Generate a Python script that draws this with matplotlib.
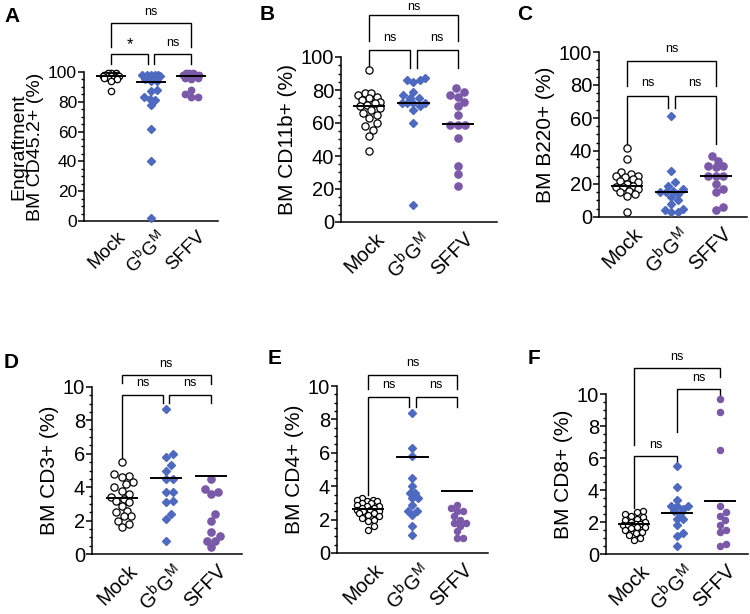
import numpy as np
import matplotlib
matplotlib.use("Agg")
import matplotlib.pyplot as plt
import matplotlib.transforms as mtransforms
from matplotlib.ticker import MultipleLocator

plt.rcParams['font.family'] = ['Liberation Sans', 'DejaVu Sans']
plt.rcParams['mathtext.default'] = 'regular'

groups = ['Mock', r'G$^\mathregular{b}$G$^\mathregular{M}$', 'SFFV']

# values (%)
a_mock = [99, 99, 99, 98, 98, 98, 98, 98, 97, 97, 97, 97, 97, 97, 96, 96, 96, 95, 94, 87]
a_gbgm = [98, 98, 98, 98, 98, 97, 95, 94, 94, 88, 87, 83, 82, 81, 78, 62, 40, 2]
a_sffv = [99, 99, 99, 98, 98, 98, 98, 97, 97, 96, 96, 95, 88, 85, 83, 83]
a_line = [97, 93, 97]

b_mock = [92, 78, 78, 77, 76, 75, 74, 73, 72, 71, 70, 69, 68, 66, 65, 63, 60, 58, 56, 52, 43]
b_gbgm = [87, 86, 86, 85, 79, 77, 75, 75, 72, 72, 72, 72, 70, 68, 60, 10]
b_sffv = [81, 79, 77, 76, 73, 70, 65, 59, 59, 59, 51, 34, 29, 22]
b_line = [70, 72, 59.5]

c_mock = [42, 35, 27, 26, 25, 25, 24, 23, 22, 21, 20, 19, 18, 18, 17, 16, 15, 14, 13, 3]
c_gbgm = [61, 28, 21, 19, 17, 16, 15, 15, 14, 12, 10, 8, 5, 4, 3, 3]
c_sffv = [37, 34, 31, 31, 30, 25, 25, 25, 20, 17, 15, 6, 4]
c_line = [19, 15, 25]

d_mock = [5.5, 4.8, 4.7, 4.6, 4.3, 4.2, 4.0, 3.8, 3.6, 3.4, 3.3, 3.2, 3.1, 2.9, 2.6, 2.5,
          2.3, 2.3, 2.0, 1.8, 1.6]
d_gbgm = [8.7, 6.0, 5.8, 5.3, 5.0, 4.5, 4.5, 3.7, 3.7, 3.2, 3.1, 2.4, 2.1, 0.8]
d_sffv = [4.5, 3.9, 3.7, 3.6, 2.4, 2.0, 1.3, 1.1, 0.8, 0.8, 0.4]
d_line = [3.35, 4.55, 4.7]

e_mock = [3.3, 3.2, 3.2, 3.1, 3.1, 3.0, 3.0, 2.9, 2.8, 2.8, 2.7, 2.7, 2.6, 2.6, 2.5, 2.5,
          2.4, 2.4, 2.3, 2.2, 2.1, 2.0, 1.9, 1.6, 1.4]
e_gbgm = [8.4, 6.3, 5.8, 4.5, 4.0, 3.6, 3.6, 3.3, 3.3, 2.9, 2.5, 2.5, 2.3, 1.6, 1.1]
e_sffv = [2.9, 2.7, 2.5, 2.5, 2.2, 2.0, 1.8, 1.8, 1.6, 1.3, 0.9, 0.9]
e_line = [2.65, 5.75, 3.7]

f_mock = [2.7, 2.6, 2.5, 2.4, 2.3, 2.2, 2.1, 2.0, 2.0, 1.9, 1.9, 1.8, 1.8, 1.8, 1.7, 1.7,
          1.6, 1.5, 1.4, 1.3, 1.2, 1.0, 0.9]
f_gbgm = [5.5, 4.2, 3.4, 3.0, 3.0, 3.0, 2.8, 2.7, 2.5, 2.2, 2.2, 1.8, 1.3, 1.1, 0.5]
f_sffv = [9.7, 8.9, 6.5, 3.0, 2.6, 2.4, 2.1, 1.8, 1.5, 1.4, 0.6, 0.5]
f_line = [1.85, 2.55, 3.3]

BLUE = '#4d69c0'
PURPLE = '#7a5aa8'
W, H = 750, 614

fig = plt.figure(figsize=(7.5, 6.14), dpi=100)
shift = mtransforms.ScaledTranslation(0.06, -0.03, fig.dpi_scale_trans)


def make_ax(l, t, r, b, xlim, ylim, major, minor, fs, xfs=14.5):
    ax = fig.add_axes([l / W, 1 - b / H, (r - l) / W, (b - t) / H])
    ax.set_xlim(*xlim)
    ax.set_ylim(*ylim)
    ax.yaxis.set_major_locator(MultipleLocator(major))
    ax.yaxis.set_minor_locator(MultipleLocator(minor))
    for s in ['top', 'right']:
        ax.spines[s].set_visible(False)
    for s in ['left', 'bottom']:
        ax.spines[s].set_linewidth(1.1)
    ax.tick_params(axis='y', which='major', length=4, width=1.1, labelsize=fs, pad=1)
    ax.tick_params(axis='y', which='minor', length=2.5, width=1.0)
    ax.tick_params(axis='x', length=0, labelsize=xfs, pad=3)
    ax.set_xticks([0, 1, 2])
    ax.set_xticklabels(groups, rotation=45, ha='right', rotation_mode='anchor')
    for lab in ax.get_xticklabels():
        lab.set_transform(lab.get_transform() + shift)
    return ax


def swarm(ax, xc, vals, diam, maxoff):
    # simple beeswarm in pixel space, limited width
    order = np.argsort(vals)
    placed = []
    xs = np.zeros(len(vals))
    cands = [0.0]
    k = 1
    while k * diam * 0.25 <= maxoff:
        cands += [k * diam * 0.25, -k * diam * 0.25]
        k += 1
    for i in order:
        px, py = ax.transData.transform((xc, vals[i]))
        best, bestd = None, -1
        for c in cands:
            cx = px + c
            d = min([np.hypot(cx - qx, py - qy) for qx, qy in placed] or [1e9])
            if d >= diam * 0.95:
                best = cx
                break
            if d > bestd:
                best, bestd = cx, d
        placed.append((best, py))
        xs[i] = ax.transData.inverted().transform((best, py))[0]
    return xs


def draw_groups(ax, data, line, ms, diam, maxoff=12):
    mock, gbgm, sffv = data
    x0 = swarm(ax, 0, mock, diam, maxoff)
    ax.plot(x0, mock, 'o', ms=ms, mfc='white', mec='black', mew=0.9, clip_on=False, zorder=3)
    x1 = swarm(ax, 1, gbgm, diam * 0.9, maxoff)
    ax.plot(x1, gbgm, 'D', ms=ms * 0.82, mfc=BLUE, mec=BLUE, clip_on=False, zorder=3)
    x2 = swarm(ax, 2, sffv, diam, maxoff)
    ax.plot(x2, sffv, 'o', ms=ms, mfc=PURPLE, mec=PURPLE, clip_on=False, zorder=3)
    for i, v in enumerate(line):
        ax.plot([i - 0.34, i + 0.34], [v, v], color='black', lw=1.4, zorder=4, clip_on=False)


def bracket(ax, x1, x2, y, e1, e2, label, ly, fs=9):
    ax.plot([x1, x1, x2, x2], [e1, y, y, e2], color='black', lw=1.0, clip_on=False,
            solid_joinstyle='miter')
    ax.text((x1 + x2) / 2, ly, label, ha='center', va='center', fontsize=fs)


# ---- A ----
axA = make_ax(84, 72, 218, 221, (-0.675, 2.675), (0, 100), 20, 5, 12.5, xfs=13.5)
draw_groups(axA, (a_mock, a_gbgm, a_sffv), a_line, 4.6, 6.5, maxoff=9)
axA.set_ylabel('Engraftment\nBM CD45.2+ (%)', fontsize=14, labelpad=3, linespacing=1.0)
bracket(axA, 0, 2, 133, 117, 117, 'ns', 140)
bracket(axA, 0, 0.93, 112, 105.5, 105.5, '*', 118.5, fs=12)
bracket(axA, 1.07, 2, 112, 105.5, 105.5, 'ns', 119.5)

# ---- B ----
axB = make_ax(341, 57, 497, 222, (-0.63, 2.88), (0, 100), 20, 5, 14.5)
draw_groups(axB, (b_mock, b_gbgm, b_sffv), b_line, 5.2, 7.5)
axB.set_ylabel('BM CD11b+ (%)', fontsize=15, labelpad=3)
bracket(axB, 0, 2, 125.5, 110, 110, 'ns', 130.6)
bracket(axB, 0, 0.93, 104, 93.5, 93.5, 'ns', 111.5)
bracket(axB, 1.07, 2, 104, 93.5, 93.5, 'ns', 111.5)

# ---- C ----
axC = make_ax(599, 52, 747, 217, (-0.63, 2.7), (0, 100), 20, 5, 14.5)
draw_groups(axC, (c_mock, c_gbgm, c_sffv), c_line, 5.2, 7.5)
axC.set_ylabel('BM B220+ (%)', fontsize=15, labelpad=3)
bracket(axC, 0, 2, 94.5, 79.5, 79.5, 'ns', 102)
bracket(axC, 0, 0.93, 73.3, 44, 66, 'ns', 81)
bracket(axC, 1.07, 2, 73.3, 66, 44, 'ns', 81)

# ---- D ----
axD = make_ax(92, 387, 242, 554, (-0.67, 2.7), (0, 10), 2, 0.5, 14.5)
draw_groups(axD, (d_mock, d_gbgm, d_sffv), d_line, 5.2, 7.5)
axD.set_ylabel('BM CD3+ (%)', fontsize=15, labelpad=3)
bracket(axD, 0, 2, 10.72, 10.25, 10.2, 'ns', 11.4)
bracket(axD, 0, 0.93, 9.52, 5.65, 9.05, 'ns', 10.25)
bracket(axD, 1.07, 2, 9.52, 9.05, 9.05, 'ns', 10.25)

# ---- E ----
axE = make_ax(337, 386, 488, 553, (-0.7, 2.7), (0, 10), 2, 0.5, 14.5)
draw_groups(axE, (e_mock, e_gbgm, e_sffv), e_line, 4.4, 6.2)
axE.set_ylabel('BM CD4+ (%)', fontsize=15, labelpad=3)
bracket(axE, 0, 2, 10.66, 9.82, 9.82, 'ns', 11.4)
bracket(axE, 0, 0.93, 9.34, 3.5, 8.75, 'ns', 10.06)
bracket(axE, 1.07, 2, 9.34, 8.75, 8.75, 'ns', 10.06)

# ---- F ----
axF = make_ax(606, 394, 748, 554, (-0.65, 2.65), (0, 10), 2, 0.5, 14.5)
draw_groups(axF, (f_mock, f_gbgm, f_sffv), f_line, 4.4, 6.2)
axF.set_ylabel('BM CD8+ (%)', fontsize=15, labelpad=3)
bracket(axF, 0, 2, 11.6, 6.8, 11.06, 'ns', 12.3)
bracket(axF, 1, 2, 10.3, 7.6, 9.8, 'ns', 11.0)
bracket(axF, 0, 1, 6.1, 2.9, 5.75, 'ns', 6.8)

# panel letters
for letter, x, y in [('A', 12, 16), ('B', 267, 15), ('C', 525, 15),
                     ('D', 11, 362), ('E', 275, 359), ('F', 534, 358)]:
    fig.text(x / W, 1 - y / H, letter, fontsize=15, fontweight='bold', ha='center', va='center')

fig.savefig('out.png', dpi=100)
